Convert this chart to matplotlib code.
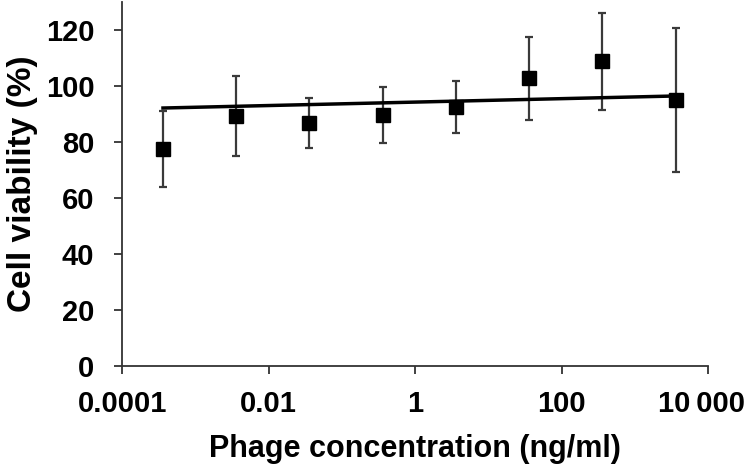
import matplotlib
matplotlib.use('Agg')
import matplotlib.pyplot as plt
from matplotlib.transforms import ScaledTranslation

plt.rcParams['font.family'] = ['Liberation Sans', 'DejaVu Sans']
plt.rcParams['font.weight'] = 'bold'

# phage concentration (ng/ml) and viability (%)
conc = [0.00036, 0.0036, 0.036, 0.36, 3.6, 36, 360, 3600]
viability = [77.5, 89.3, 86.7, 89.6, 92.6, 102.7, 108.8, 94.9]
err = [13.5, 14.2, 8.8, 10.0, 9.3, 14.8, 17.3, 25.8]

# trend line end points
trend_x = [0.00036, 3600]
trend_y = [92.1, 96.4]

xticks = [0.0001, 0.01, 1, 100, 10000]
xticklabels = ['0.0001', '0.01', '1', '100', '10\u2009000']
yticks = [0, 20, 40, 60, 80, 100, 120]

fig = plt.figure(figsize=(7.5, 4.68), dpi=100)
ax = fig.add_axes([0.163, 0.218, 0.781, 0.778])

ax.errorbar(conc, viability, yerr=err, fmt='none', ecolor='#3a3a3a',
            elinewidth=1.6, capsize=2.6, capthick=1.6, zorder=2)
ax.plot(trend_x, trend_y, color='black', lw=2.5, zorder=3)
ax.plot(conc, viability, 's', color='black', markersize=10, zorder=4)

ax.set_xscale('log')
ax.set_xlim(0.0001, 10000)
ax.set_ylim(0, 130)
ax.set_xticks(xticks)
ax.set_xticklabels(xticklabels)
ax.minorticks_off()
ax.set_yticks(yticks)

for s in ['top', 'right']:
    ax.spines[s].set_visible(False)
for s in ['left', 'bottom']:
    ax.spines[s].set_color('#333333')
    ax.spines[s].set_linewidth(1.3)
ax.tick_params(axis='both', direction='out', length=6, width=1.3,
               color='#333333', labelsize=21)
ax.tick_params(axis='x', pad=11)
ax.tick_params(axis='y', pad=14)

# last label sits a bit left so it stays inside the figure
lab = ax.get_xticklabels()[-1]
lab.set_transform(lab.get_transform() + ScaledTranslation(-7 / 100, 0, fig.dpi_scale_trans))

ax.set_xlabel('Phage concentration (ng/ml)', fontsize=22, fontweight='bold', labelpad=12)
ax.set_ylabel('Cell viability (%)', fontsize=24, fontweight='bold', labelpad=6)

fig.savefig('out.png', dpi=100)
